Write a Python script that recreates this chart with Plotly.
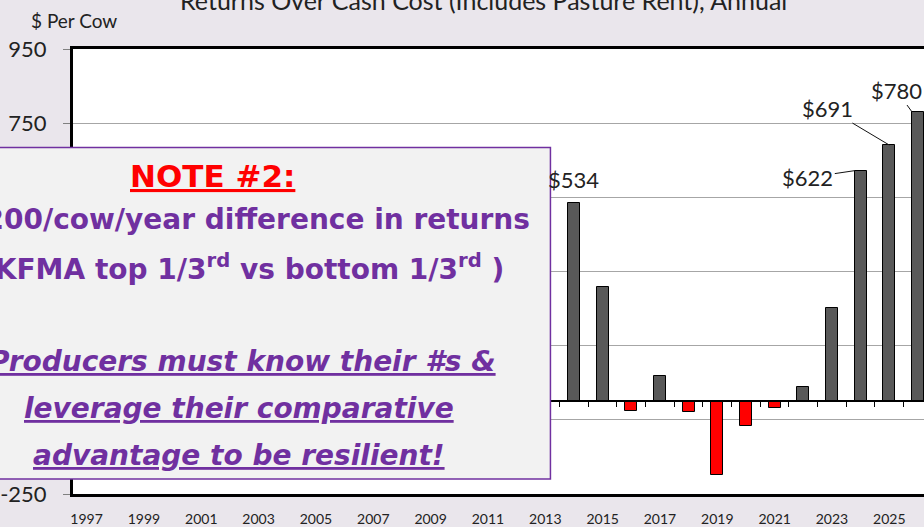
import plotly.graph_objects as go

# ---------------- data ----------------
years = list(range(2013, 2027))
returns = [128, 534, 308, -27, 68, -28, -200, -66, -17, 39, 252, 622, 691, 780]
tick_years = list(range(1997, 2026, 2))
tick_labels = [str(y) for y in tick_years]
y_ticks = [-250, -50, 150, 350, 550, 750, 950]
y_labels = [str(v) for v in y_ticks]
labeled_years = [2014, 2024, 2025, 2026]

# ---------------- layout geometry ----------------
W, H = 924, 527
L, R, T, B = 72, 0, 49, 31
x_range = [1996.526, 2026.21]
y_range = [-250, 950]
bar_w = 0.41
FONT = "Lato"
NOTE_FONT = "DejaVu Sans"
TXT = "#222222"
PURPLE = "#7030A0"


def px_x(p):
    return (p - L) / (W - L - R)


def px_y(p):
    return (H - B - p) / (H - T - B)


colors = ["#595959" if v >= 0 else "#FF0000" for v in returns]

fig = go.Figure()
fig.add_trace(go.Bar(
    x=years, y=returns, width=bar_w,
    marker=dict(color=colors, line=dict(color="black", width=1)),
    showlegend=False, hoverinfo="skip",
))
# helper trace so the zero-line axis is drawn
fig.add_trace(go.Scatter(
    x=[years[0]], y=[0], xaxis="x2", yaxis="y", mode="markers",
    marker=dict(opacity=0), showlegend=False, hoverinfo="skip",
))

annotations = []
val = dict(zip(years, returns))

# bar value labels
offsets = {
    2014: dict(showarrow=False, xo=0.0, yanchor="bottom", yshift=8),
    2024: dict(showarrow=True, xo=-bar_w / 2, ax=-47, ay=7),
    2025: dict(showarrow=True, xo=0.0, ax=-62, ay=-37),
    2026: dict(showarrow=True, xo=-bar_w / 2, ax=-16, ay=-22),
}
for yr in labeled_years:
    o = offsets[yr]
    a = dict(x=yr + o["xo"], y=val[yr], xref="x", yref="y",
             text=f"${val[yr]}", font=dict(family=FONT, size=22, color=TXT))
    if o["showarrow"]:
        a.update(showarrow=True, arrowhead=0, arrowwidth=1, arrowcolor="#111111",
                 ax=o["ax"], ay=o["ay"], axref="pixel", ayref="pixel")
    else:
        a.update(showarrow=False, yanchor=o["yanchor"], yshift=o["yshift"])
    annotations.append(a)

# title and axis title
annotations.append(dict(
    text="Returns Over Cash Cost (Includes Pasture Rent), Annual",
    x=px_x(483), y=1, xref="paper", yref="paper", xanchor="center",
    yanchor="middle", yshift=49, showarrow=False,
    font=dict(family=FONT, size=25, color=TXT)))
annotations.append(dict(
    text="$ Per Cow", x=px_x(73), y=1, xref="paper", yref="paper",
    xanchor="center", yanchor="middle", yshift=29, showarrow=False,
    font=dict(family=FONT, size=19, color=TXT)))

# note box text
note_lines = [
    ("<b><u>NOTE #2:</u></b>", 31, "#FF0000", "center", 212, 177),
    ("<b>$200/cow/year difference in returns</b>", 28, PURPLE, "right", 532, 220),
    ("<b>(KFMA top 1/3<sup>rd</sup> vs bottom 1/3<sup>rd</sup> )</b>", 28, PURPLE, "right", 506, 268),
    ("<b><i><u>Producers must know their #s &amp;</u></i></b>", 28, PURPLE, "right", 497, 363),
    ("<b><i><u>leverage their comparative</u></i></b>", 28, PURPLE, "center", 238, 410),
    ("<b><i><u>advantage to be resilient!</u></i></b>", 28, PURPLE, "center", 238, 457),
]
for text, size, col, anchor, xp, yp in note_lines:
    annotations.append(dict(
        text=text, x=px_x(xp), y=px_y(yp), xref="paper", yref="paper",
        xanchor=anchor, yanchor="middle", showarrow=False,
        font=dict(family=NOTE_FONT, size=size, color=col)))

shapes = [dict(
    type="rect", xref="paper", yref="paper",
    x0=px_x(-130), x1=px_x(550), y0=px_y(481), y1=px_y(148),
    fillcolor="#F2F2F2", line=dict(color=PURPLE, width=1.5), layer="above")]

fig.update_layout(
    width=W, height=H,
    margin=dict(l=L, r=R, t=T, b=B, pad=0),
    paper_bgcolor="#EAE6EC", plot_bgcolor="white",
    bargap=0, showlegend=False,
    annotations=annotations, shapes=shapes,
    xaxis=dict(
        range=x_range, domain=[0, 1], tickmode="array",
        tickvals=tick_years, ticktext=tick_labels,
        tickfont=dict(family=FONT, size=14, color=TXT),
        showgrid=False, zeroline=False, showline=True, linecolor="black",
        linewidth=3, mirror=True, ticks="", ticklabelstandoff=10,
        fixedrange=True,
    ),
    xaxis2=dict(
        overlaying="x", matches="x", anchor="free",
        position=(0 - y_range[0]) / (y_range[1] - y_range[0]), side="bottom",
        showline=True, linecolor="black", linewidth=2,
        ticks="outside", ticklen=5, tickwidth=1, tickcolor="black",
        tickmode="array", tickvals=[y + 0.5 for y in range(1996, 2026)],
        showticklabels=False, showgrid=False, zeroline=False,
    ),
    yaxis=dict(
        range=y_range, tickmode="array", tickvals=y_ticks, ticktext=y_labels,
        tickfont=dict(family=FONT, size=22, color=TXT),
        showgrid=True, gridcolor="#A6A6A6", gridwidth=1,
        zeroline=False, showline=True, linecolor="black", linewidth=3,
        ticks="outside", ticklen=7, tickwidth=1, tickcolor="#808080",
        ticklabelstandoff=12, fixedrange=True,
    ),
)

fig.write_html(
    "out.html",
    config={"displayModeBar": False},
    post_script="document.body.style.margin='0';document.body.style.overflow='hidden';",
)
